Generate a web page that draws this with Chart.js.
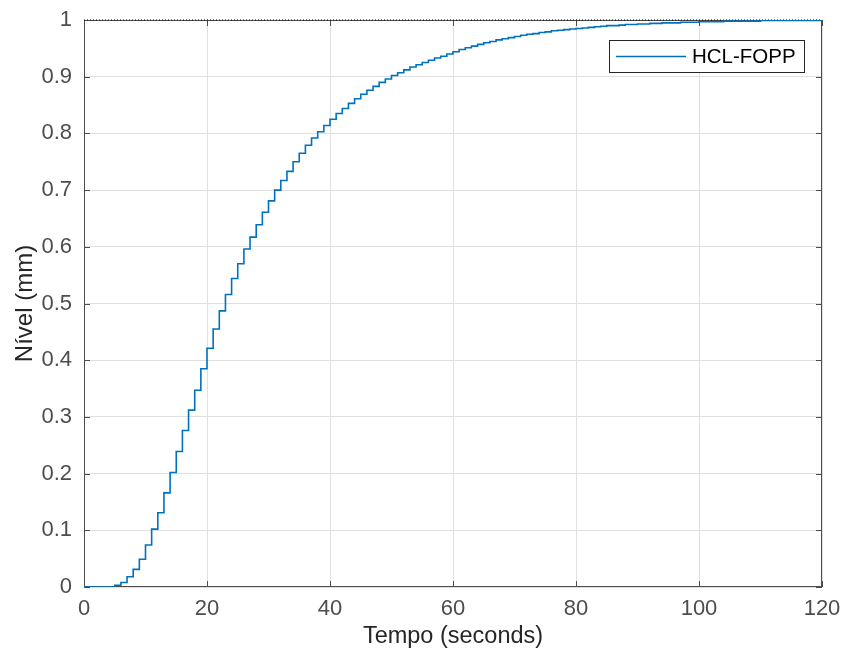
<!DOCTYPE html>
<html>
<head>
<meta charset="utf-8">
<title>HCL-FOPP</title>
<script src="https://cdn.jsdelivr.net/npm/chart.js@4.4.1/dist/chart.umd.min.js"></script>
<style>
    html, body { margin: 0; padding: 0; background: #fff; }
    #chart { display: block; }
</style>
</head>
<body>
<canvas id="chart" width="846" height="657"></canvas>
<script>
// Data (one sample per second, zero-order hold)
const SAMPLE_TIME = 1;
const seriesName = "HCL-FOPP";
const levels = [
    0, 0, 0, 0, 0, 0.003, 0.008, 0.018, 0.031, 0.049,
    0.074, 0.102, 0.131, 0.166, 0.202, 0.239, 0.276, 0.312, 0.347, 0.385,
    0.421, 0.455, 0.487, 0.516, 0.544, 0.570, 0.596, 0.617, 0.639, 0.661,
    0.681, 0.700, 0.717, 0.733, 0.750, 0.765, 0.779, 0.792, 0.803, 0.814,
    0.825, 0.835, 0.844, 0.853, 0.861, 0.869, 0.876, 0.883, 0.890, 0.896,
    0.902, 0.907, 0.912, 0.917, 0.921, 0.925, 0.929, 0.933, 0.936, 0.940,
    0.944, 0.948, 0.951, 0.954, 0.957, 0.960, 0.962, 0.965, 0.967, 0.969,
    0.971, 0.973, 0.975, 0.976, 0.978, 0.979, 0.981, 0.982, 0.983, 0.984,
    0.985, 0.986, 0.987, 0.988, 0.989, 0.990, 0.990, 0.991, 0.992, 0.992,
    0.993, 0.993, 0.994, 0.994, 0.995, 0.995, 0.995, 0.996, 0.996, 0.996,
    0.997, 0.997, 0.997, 0.997, 0.998, 0.998, 0.998, 0.998, 0.998, 0.998,
    0.999, 0.999, 0.999, 0.999, 0.999, 0.999, 0.999, 0.999, 0.999, 0.999,
    0.999
];
const finalValue = 1;
const xRange = [0, 120];
const yRange = [0, 1];
const xTickStep = 20;
const yTickStep = 0.1;
const xTitle = "Tempo (seconds)";
const yTitle = "Nível (mm)";

const FONT = '"Liberation Sans", Arial, Helvetica, sans-serif';
const LINE_COLOR = "#0072BD";
const AXIS_COLOR = "#4d4d4d";

const stepPoints = levels.map((v, i) => ({ x: i * SAMPLE_TIME, y: v }));
const finalLine = xRange.map(x => ({ x, y: finalValue }));

// Box around the plot with MATLAB style inward ticks
const boxPlugin = {
    id: "box",
    beforeDatasetsDraw(chart) {
        const { ctx, chartArea: a, scales } = chart;
        ctx.save();
        ctx.strokeStyle = AXIS_COLOR;
        ctx.lineWidth = 1;
        ctx.strokeRect(a.left + 0.5, a.top + 0.5, a.right - a.left - 1, a.bottom - a.top - 1);
        const len = 6;
        ctx.beginPath();
        scales.x.ticks.forEach(t => {
            const px = Math.round(scales.x.getPixelForValue(t.value)) + 0.5;
            ctx.moveTo(px, a.bottom);
            ctx.lineTo(px, a.bottom - len);
            ctx.moveTo(px, a.top);
            ctx.lineTo(px, a.top + len);
        });
        scales.y.ticks.forEach(t => {
            const py = Math.round(scales.y.getPixelForValue(t.value)) + 0.5;
            ctx.moveTo(a.left, py);
            ctx.lineTo(a.left + len, py);
            ctx.moveTo(a.right, py);
            ctx.lineTo(a.right - len, py);
        });
        ctx.stroke();
        ctx.restore();
    }
};

// Legend box inside the axes, top right
const legendPlugin = {
    id: "insideLegend",
    afterDraw(chart) {
        const { ctx } = chart;
        const ds = chart.data.datasets[0];
        const x = 609.5, y = 40.5, w = 195, h = 32;
        ctx.save();
        ctx.fillStyle = "#fff";
        ctx.fillRect(x, y, w, h);
        ctx.strokeStyle = "#262626";
        ctx.lineWidth = 1;
        ctx.strokeRect(x, y, w, h);
        ctx.strokeStyle = ds.borderColor;
        ctx.lineWidth = ds.borderWidth;
        ctx.beginPath();
        ctx.moveTo(616, y + h / 2);
        ctx.lineTo(686, y + h / 2);
        ctx.stroke();
        ctx.fillStyle = "#000";
        ctx.font = "20.5px " + FONT;
        ctx.textBaseline = "middle";
        ctx.fillText(ds.label, 692, y + h / 2 + 1);
        ctx.restore();
    }
};

new Chart(document.getElementById("chart"), {
    type: "line",
    data: {
        datasets: [{
            label: seriesName,
            data: stepPoints,
            stepped: "before",
            borderColor: LINE_COLOR,
            borderWidth: 1.6,
            pointRadius: 0,
            fill: false
        }, {
            label: "final",
            data: finalLine,
            borderColor: "#000",
            borderWidth: 1,
            borderDash: [1, 2],
            pointRadius: 0,
            fill: false,
            clip: false
        }]
    },
    options: {
        responsive: false,
        animation: false,
        devicePixelRatio: 1,
        layout: { padding: { top: 20, right: 24, left: 0, bottom: 0 } },
        plugins: {
            legend: { display: false },
            tooltip: { enabled: false }
        },
        scales: {
            x: {
                type: "linear",
                min: xRange[0],
                max: xRange[1],
                afterFit(scale) {
                    scale.height = 70;
                    scale.paddingLeft = 0;
                    scale.paddingRight = 0;
                },
                grid: { color: "#e0e0e0", drawTicks: false },
                border: { display: false },
                ticks: {
                    stepSize: xTickStep,
                    padding: 9,
                    color: AXIS_COLOR,
                    font: { family: FONT, size: 22 },
                    maxRotation: 0
                },
                title: {
                    display: true,
                    text: xTitle,
                    color: "#262626",
                    font: { family: FONT, size: 23.5 },
                    padding: { top: 0, bottom: 6 }
                }
            },
            y: {
                type: "linear",
                min: yRange[0],
                max: yRange[1],
                afterFit(scale) {
                    scale.width = 84;
                    scale.paddingTop = 0;
                    scale.paddingBottom = 0;
                },
                grid: { color: "#e0e0e0", drawTicks: false },
                border: { display: false },
                ticks: {
                    stepSize: yTickStep,
                    padding: 12,
                    color: AXIS_COLOR,
                    font: { family: FONT, size: 22 },
                    callback: v => String(+v.toFixed(1))
                },
                title: {
                    display: true,
                    text: yTitle,
                    color: "#262626",
                    font: { family: FONT, size: 24 },
                    padding: { top: 11, bottom: 0 }
                }
            }
        }
    },
    plugins: [boxPlugin, legendPlugin]
});
</script>
</body>
</html>
